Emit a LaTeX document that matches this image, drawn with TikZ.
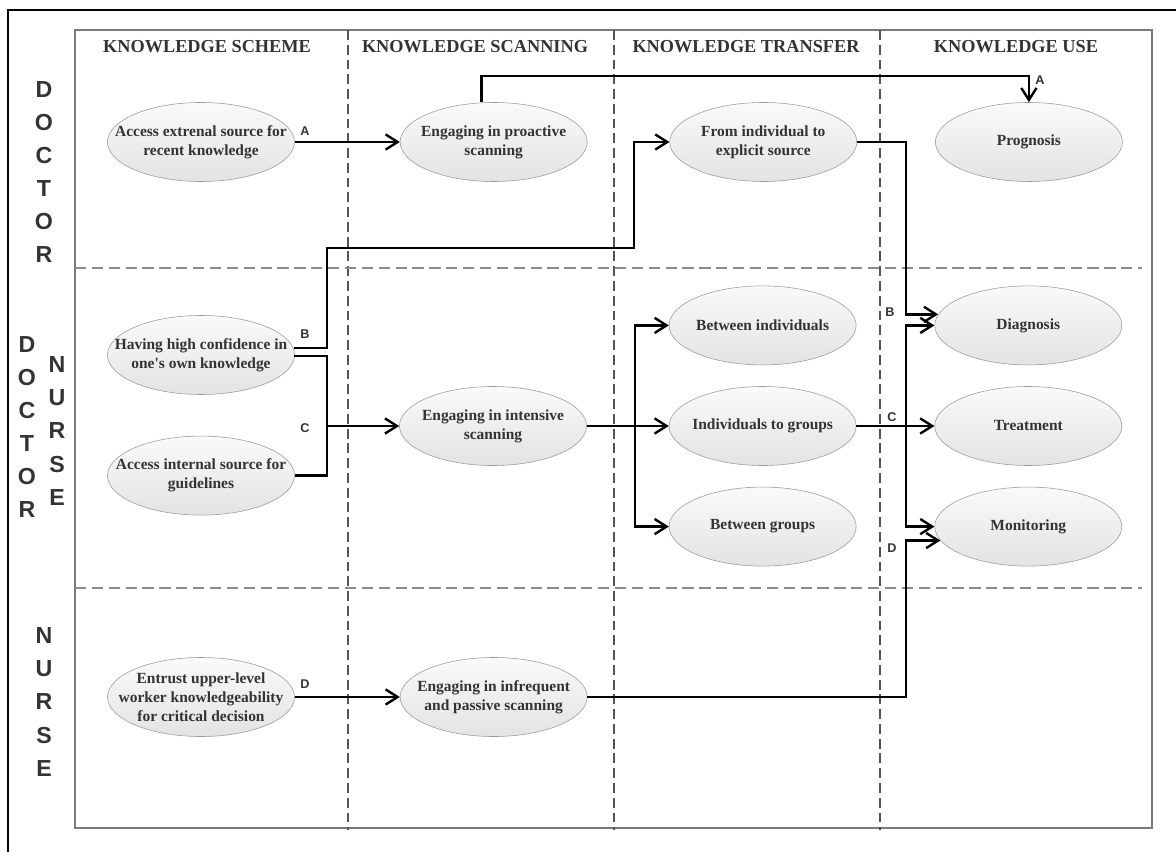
\documentclass[tikz,border=0pt]{standalone}
\usepackage{fontspec}
\setmainfont{Liberation Serif}
\setsansfont{Liberation Sans}
\usetikzlibrary{arrows.meta,positioning,shapes.geometric,calc}
\definecolor{Ink}{HTML}{333333}
\definecolor{Rim}{HTML}{9A9A9A}
\definecolor{Frame}{HTML}{7A7A7A}
\definecolor{Lane}{HTML}{555555}
\definecolor{Band}{HTML}{8C8C8C}

\begin{document}
\begin{tikzpicture}[
  x=0.025cm, y=-0.025cm,
  oval/.style={ellipse,draw=Rim,thin,top color=gray!4,bottom color=gray!22,minimum width=4.675cm,minimum height=1.975cm,inner xsep=-1cm,inner ysep=-0.6cm,align=center,text=Ink,font=\bfseries\fontsize{11}{13.7}\selectfont},
  head/.style={text=Ink,font=\bfseries\fontsize{13}{15}\selectfont},
  role/.style={align=center,text=Ink,inner sep=0pt,font=\sffamily\bfseries\fontsize{16.5}{23.5}\selectfont},
  tag/.style={text=Ink,inner sep=0pt,font=\sffamily\bfseries\fontsize{9}{10}\selectfont},
  arrow/.style={-{Straight Barb[length=3mm,width=3.8mm]},line width=1.7pt},
  link/.style={line width=1.7pt},
  lane/.style={draw=Lane,dash pattern=on 7pt off 3.5pt,line width=0.9pt},
  band/.style={draw=Band,dash pattern=on 8pt off 4pt,line width=1.3pt}
]
\useasboundingbox (0,0) rectangle (1176,852);
% frames and swimlanes
\draw[line width=1.5pt] (8,852) -- (8,10) -- (1176,10);
\draw[draw=Frame,line width=1.1pt] (75,30) rectangle (1152,828);
\foreach \x in {348,614,880} \draw[lane] (\x,30) -- (\x,830);
\foreach \y in {268,588} \draw[band] (75,\y) -- (1142,\y);

% headers and roles
\node[head] (hscheme) at (207,47) {KNOWLEDGE SCHEME};
\node[head] (hscan) at (475,47) {KNOWLEDGE SCANNING};
\node[head] (htrans) at (746,47) {KNOWLEDGE TRANSFER};
\node[head] (huse) at (1016,47) {KNOWLEDGE USE};
\node[role] (doc) at (44,172) {D\\O\\C\\T\\O\\R};
\node[role] (docb) at (27,427) {D\\O\\C\\T\\O\\R};
\node[role] (nurb) at (57,431) {N\\U\\R\\S\\E};
\node[role] (nur) at (44,702) {N\\U\\R\\S\\E};

% doctor
\node[oval] (ext) at (201,142) {Access extrenal source for\\recent knowledge};
\node[oval,right=2.625cm of ext] (pro) {Engaging in proactive\\scanning};
\node[oval,right=2.05cm of pro] (expl) {From individual to\\explicit source};
\node[oval,right=1.95cm of expl] (prog) {Prognosis};
% doctor and nurse
\node[oval] (conf) at (201,355) {Having high confidence in\\one\textquotesingle s own knowledge};
\node[oval,below=1.025cm of conf] (intl) {Access internal source for\\guidelines};
\node[oval] (inten) at (493,426) {Engaging in intensive\\scanning};
\node[oval,right=2.05cm of inten] (indgrp) {Individuals to groups};
\node[oval,above=0.525cm of indgrp] (betind) {Between individuals};
\node[oval,below=0.525cm of indgrp] (betgrp) {Between groups};
\node[oval,right=1.95cm of indgrp] (treat) {Treatment};
\node[oval,right=1.95cm of betind] (diag) {Diagnosis};
\node[oval,right=1.95cm of betgrp] (moni) {Monitoring};
% nurse
\node[oval] (entr) at (201,697) {Entrust upper-level\\worker knowledgeability\\for critical decision};
\node[oval,right=2.625cm of entr] (pass) {Engaging in infrequent\\and passive scanning};

\coordinate (jB) at (327,248);
\coordinate (jX) at (634,248);
\coordinate (jC) at (327,426);
\coordinate (jT) at (635,426);
\coordinate (bus) at (906,426);

% A
\draw[arrow] (ext) -- (pro);
\draw[arrow] ($(pro.north)+(-12,0)$) -- ++(0,-26) -| (prog.north);
% B
\draw[arrow] ($(conf.east)+(-1,-7)$) -| (jB) -- (jX) |- (expl.west);
\draw[arrow] (expl.east) -| (bus |- diag.173) -- (diag.173);
% C
\draw[link] ($(conf.east)+(-1,1)$) -| (jC) |- (intl.east);
\draw[arrow] (jC) -- (inten);
\draw[arrow] (inten) -- (indgrp);
\draw[arrow] (jT) |- (betind);
\draw[arrow] (jT) |- (betgrp);
\draw[arrow] (indgrp) -- (treat);
\draw[arrow] (bus) |- (diag);
\draw[arrow] (bus) |- (moni);
% D
\draw[arrow] (entr) -- (pass);
\draw[arrow] (pass) -| (bus |- moni.189) -- (moni.189);

\node[tag] (tA) at (305,131) {A};
\node[tag] (tA2) at (1040,80) {A};
\node[tag] (tB) at (305,334) {B};
\node[tag] (tB2) at (890,312) {B};
\node[tag] (tC) at (305,428) {C};
\node[tag] (tC2) at (892,417) {C};
\node[tag] (tD) at (305,684) {D};
\node[tag] (tD2) at (892,548) {D};
\end{tikzpicture}
\end{document}
